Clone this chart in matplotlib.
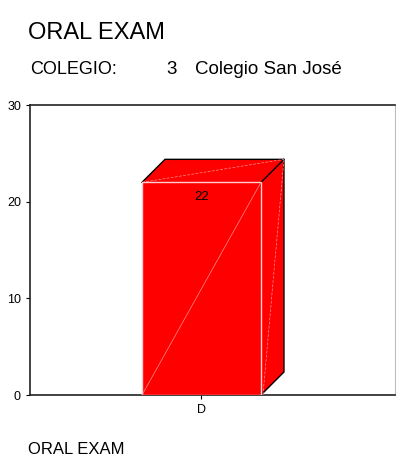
import matplotlib.pyplot as plt
from matplotlib.patches import Polygon
import numpy as np

plt.rcParams['font.family'] = ['Liberation Sans', 'DejaVu Sans']

# counts per grade
categories = ['D']
counts = [22]
yticks = [0, 10, 20, 30]

title = 'ORAL EXAM'
school_label = 'COLEGIO:'
school_code = '3'
school_name = 'Colegio San José'

fig = plt.figure(figsize=(3.96, 4.59), dpi=100)
ax = fig.add_axes([30/396, 1 - 395/459, 365/396, 290/459])

bar_w = 0.6
ax.set_xlim(-0.865, 0.976)
ax.set_ylim(0, 30)
ax.set_yticks(yticks)
ax.set_xticks(range(len(categories)))
ax.set_xticklabels(categories)
ax.tick_params(labelsize=9, length=3, width=0.8, colors='black')
for s in ['left', 'bottom', 'top']:
    ax.spines[s].set_linewidth(1.2)
    ax.spines[s].set_color('#222222')
ax.spines['right'].set_color('#bbbbbb')
ax.spines['right'].set_linewidth(0.8)

fig.canvas.draw()
depth_px = 23

def shift(x, y):
    # move a data point back by the bar depth, in pixels
    px, py = ax.transData.transform((x, y))
    return tuple(ax.transData.inverted().transform((px + depth_px, py + depth_px)))

red = '#ff0000'
light = '#ff9090'
for i, v in enumerate(counts):
    x0, x1 = i - bar_w / 2, i + bar_w / 2
    fl, fr = (x0, 0), (x1, 0)
    tl, tr = (x0, v), (x1, v)
    btl, btr, bbr = shift(*tl), shift(*tr), shift(*fr)
    # side and top faces
    ax.add_patch(Polygon([fr, bbr, btr, tr], closed=True, fc=red, ec='none', zorder=2))
    ax.add_patch(Polygon([tl, btl, btr, tr], closed=True, fc=red, ec='none', zorder=2))
    ax.plot([tl[0], btl[0], btr[0], bbr[0], fr[0]], [tl[1], btl[1], btr[1], bbr[1], fr[1]],
            color='black', lw=1.0, zorder=3, solid_joinstyle='miter')
    ax.plot([tr[0], btr[0]], [tr[1], btr[1]], color='black', lw=1.0, zorder=3)
    ax.plot([tl[0], btr[0]], [tl[1], btr[1]], color=light, lw=0.5, ls=(0, (4, 2)), zorder=3)
    ax.plot([fr[0] + 0.01, btr[0]], [fr[1], btr[1]], color=light, lw=0.5, ls=(0, (4, 2)), zorder=3)
    # front face
    ax.add_patch(Polygon([fl, fr, tr, tl], closed=True, fc=red, ec='#ffd0d0', lw=1.0, zorder=4))
    ax.plot([fl[0], tr[0]], [fl[1], tr[1]], color=light, lw=0.5, zorder=5)
    ax.text(i, v - 0.9, str(v), ha='center', va='top', fontsize=9.5, zorder=6)

fig.text(28/396, 1 - 33/459, title, fontsize=17, va='center', ha='left')
fig.text(30/396, 1 - 69/459, school_label, fontsize=13, va='center', ha='left')
fig.text(166/396, 1 - 69/459, school_code, fontsize=13.5, va='center', ha='left')
fig.text(195/396, 1 - 69/459, school_name, fontsize=13.5, va='center', ha='left')
fig.text(28/396, 1 - 450/459, title, fontsize=12, va='center', ha='left')

fig.savefig('out.png', dpi=100)
